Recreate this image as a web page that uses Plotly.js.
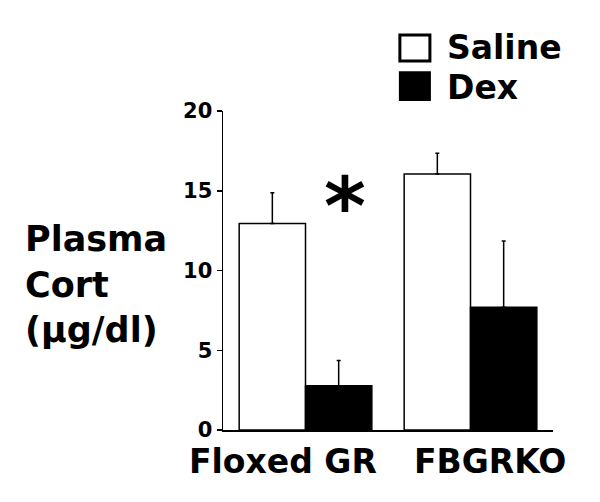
<!DOCTYPE html>
<html>
<head>
<meta charset="utf-8">
<script src="https://cdn.plot.ly/plotly-3.0.1.min.js"></script>
<style>
	body { margin: 0; background: #fff; }
	#myDiv { width: 600px; height: 502px; }
</style>
</head>
<body>
<div id="myDiv"></div>
<script>
// values
var groups = ['Floxed GR', 'FBGRKO'];
var salineVal = [12.95, 16.05];
var salineErr = [1.92, 1.3];
var dexVal = [2.78, 7.7];
var dexErr = [1.57, 4.15];
var yTicks = [0, 5, 10, 15, 20];

var bigFont = 'DejaVu Sans';

window.onload = function() {
	var trace1 = {
		x: groups,
		y: salineVal,
		type: 'bar',
		name: 'Saline',
		marker: {color: '#ffffff', line: {color: '#000000', width: 1.5}},
		error_y: {type: 'data', symmetric: false, array: salineErr, arrayminus: [0, 0],
			color: '#000000', thickness: 1.5, width: 2}
	};

	var trace2 = {
		x: groups,
		y: dexVal,
		type: 'bar',
		name: 'Dex',
		marker: {color: '#000000', line: {color: '#000000', width: 1.5}},
		error_y: {type: 'data', symmetric: false, array: dexErr, arrayminus: [0, 0],
			color: '#000000', thickness: 1.5, width: 2}
	};

	var layout = {
		width: 600,
		height: 502,
		margin: {l: 223, r: 47, t: 111, b: 72},
		paper_bgcolor: '#ffffff',
		plot_bgcolor: '#ffffff',
		barmode: 'group',
		bargap: 0.196,
		bargroupgap: 0,
		showlegend: false,
		xaxis: {
			type: 'category',
			range: [-0.5, 1.5],
			showticklabels: false,
			ticks: '',
			showline: true,
			linecolor: '#000000',
			linewidth: 1.5,
			showgrid: false,
			zeroline: false
		},
		yaxis: {
			range: [0, 20],
			tickvals: yTicks,
			ticks: 'outside',
			ticklen: 5,
			tickwidth: 1.5,
			tickcolor: '#000000',
			showline: true,
			linecolor: '#000000',
			linewidth: 1.5,
			showgrid: false,
			zeroline: false,
			tickfont: {family: bigFont, size: 21, color: '#000000', weight: 'bold'}
		},
		shapes: [
			// legend boxes
			{type: 'rect', xref: 'paper', yref: 'paper', x0: 0.536, x1: 0.627, y0: 1.157, y1: 1.238,
				line: {color: '#000000', width: 3}, fillcolor: '#ffffff'},
			{type: 'rect', xref: 'paper', yref: 'paper', x0: 0.533, x1: 0.630, y0: 1.031, y1: 1.125,
				line: {color: '#000000', width: 0}, fillcolor: '#000000'}
		],
		annotations: [
			{text: 'Saline', xref: 'paper', yref: 'paper', x: 0.672, y: 1.2, xanchor: 'left', yanchor: 'middle',
				showarrow: false, font: {family: bigFont, size: 33, color: '#000000', weight: 'bold'}},
			{text: 'Dex', xref: 'paper', yref: 'paper', x: 0.672, y: 1.075, xanchor: 'left', yanchor: 'middle',
				showarrow: false, font: {family: bigFont, size: 33, color: '#000000', weight: 'bold'}},
			// y title
			{text: 'Plasma<br>Cort<br>(µg/dl)', xref: 'paper', yref: 'paper', x: -0.605, y: 0.455,
				xanchor: 'left', yanchor: 'middle', align: 'left', showarrow: false,
				font: {family: bigFont, size: 35, color: '#000000', weight: 'bold'}},
			// group labels
			{text: groups[0], xref: 'x', yref: 'paper', x: groups[0], xshift: -23, y: 0, yshift: -10,
				xanchor: 'center', yanchor: 'top', showarrow: false,
				font: {family: bigFont, size: 33, color: '#000000', weight: 'bold'}},
			{text: groups[1], xref: 'x', yref: 'paper', x: groups[1], xshift: 19, y: 0, yshift: -10,
				xanchor: 'center', yanchor: 'top', showarrow: false,
				font: {family: bigFont, size: 33, color: '#000000', weight: 'bold'}},
			// significance mark
			{text: '*', xref: 'paper', yref: 'paper', x: 0.37, y: 0.70, xanchor: 'center', yanchor: 'middle',
				showarrow: false, font: {family: bigFont, size: 80, color: '#000000', weight: 'bold'}}
		]
	};

	var data = [trace1, trace2];
	Plotly.newPlot('myDiv', data, layout, {displayModeBar: false, staticPlot: true});
} //end window.onload
</script>
</body>
</html>
